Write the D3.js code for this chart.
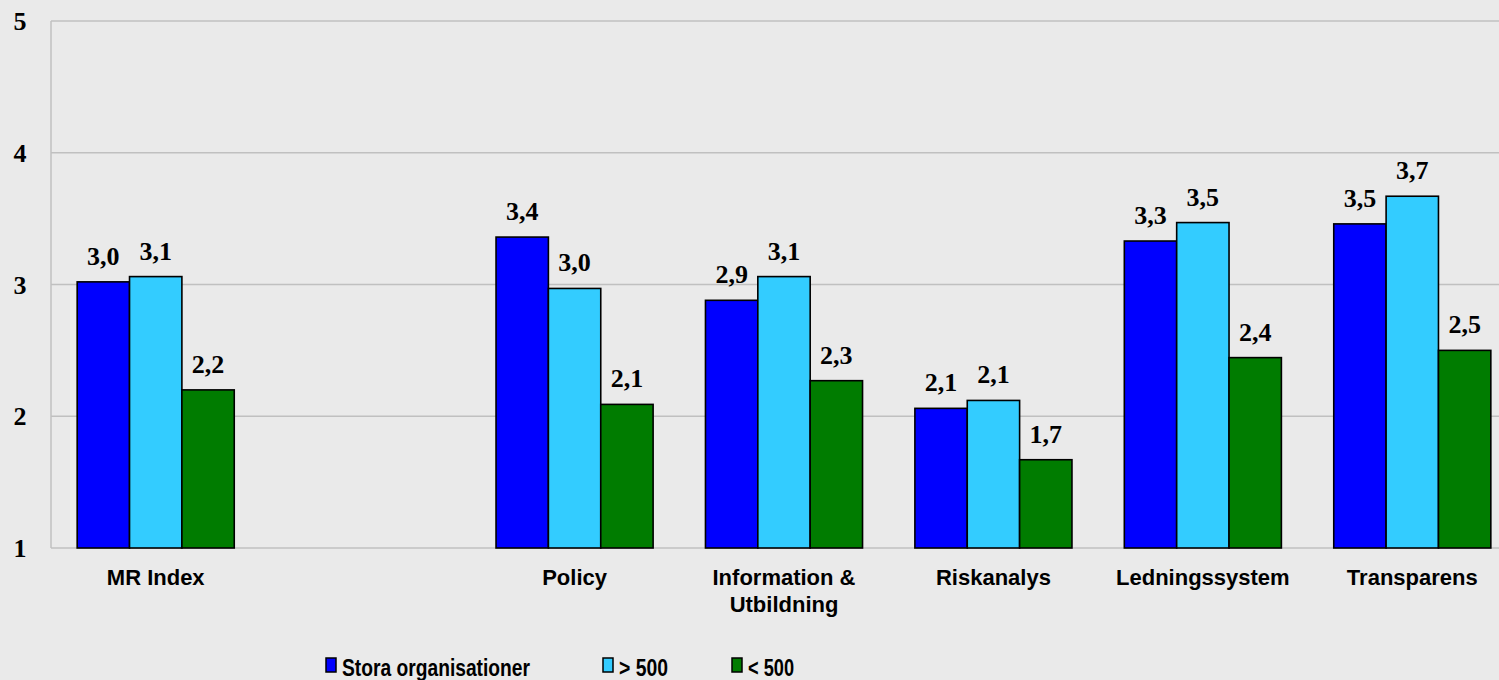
<!DOCTYPE html>
<html><head><meta charset="utf-8">
<script src="https://cdn.jsdelivr.net/npm/d3@7/dist/d3.min.js"></script>
<style>
html,body{margin:0;padding:0;background:#eaeaea;overflow:hidden;}
svg{display:block;}
</style></head>
<body>
<svg id="chart" width="1499" height="680"></svg>
<script>
const categories = [["MR Index"], [""], ["Policy"], ["Information &", "Utbildning"], ["Riskanalys"], ["Ledningssystem"], ["Transparens"]];
const seriesNames = ["Stora organisationer", "> 500", "< 500"];
const seriesColors = ["#0000ff", "#33ccff", "#007c00"];
const stora = [3.02, null, 3.36, 2.88, 2.06, 3.33, 3.46];
const over500 = [3.06, null, 2.97, 3.06, 2.12, 3.47, 3.67];
const under500 = [2.20, null, 2.09, 2.27, 1.67, 2.445, 2.50];
const yTicks = [1, 2, 3, 4, 5];

const series = [stora, over500, under500];
const svg = d3.select("#chart");
svg.append("rect").attr("width", 1499).attr("height", 680).attr("fill", "#eaeaea");

const x0 = d3.scaleBand().domain(d3.range(categories.length)).range([51, 1517]).paddingInner(0.25).paddingOuter(0.125);
const x1 = d3.scaleBand().domain(d3.range(series.length)).range([0, x0.bandwidth()]);
const y = d3.scaleLinear().domain([1, 5]).range([548, 21]);

// gridlines
svg.append("g").selectAll("line").data(yTicks).join("line")
  .attr("x1", 51).attr("x2", 1499)
  .attr("y1", d => y(d)).attr("y2", d => y(d))
  .attr("stroke", "#c0c0c0").attr("stroke-width", 1.5);
svg.append("line").attr("x1", 51).attr("x2", 51).attr("y1", y(5)).attr("y2", y(1))
  .attr("stroke", "#c0c0c0").attr("stroke-width", 1.5);

// y axis labels
const yAxis = d3.axisLeft(y).tickValues(yTicks).tickSize(0).tickPadding(0).tickFormat(d3.format("d"));
const gy = svg.append("g").attr("transform", "translate(26.5,0)").call(yAxis);
gy.select(".domain").remove();
gy.selectAll("text").attr("font-family", "'Liberation Serif', 'Times New Roman', serif")
  .attr("font-weight", "bold").attr("font-size", 26).attr("fill", "#000").attr("dy", "0.33em");

// bars
const fmt = v => v.toFixed(1).replace(".", ",");
series.forEach((vals, si) => {
  const g = svg.append("g");
  const data = vals.map((v, i) => ({i, v})).filter(d => d.v != null);
  g.selectAll("rect").data(data).join("rect")
    .attr("x", d => x0(d.i) + x1(si))
    .attr("width", x1.bandwidth())
    .attr("y", d => y(d.v))
    .attr("height", d => y(1) - y(d.v))
    .attr("fill", seriesColors[si])
    .attr("stroke", "#000").attr("stroke-width", 1.6);
  g.selectAll("text").data(data).join("text")
    .attr("x", d => x0(d.i) + x1(si) + x1.bandwidth() / 2)
    .attr("y", d => y(d.v) - 17)
    .attr("text-anchor", "middle")
    .attr("font-family", "'Liberation Serif', 'Times New Roman', serif")
    .attr("font-weight", "bold").attr("font-size", 26).attr("fill", "#000")
    .text(d => fmt(d.v));
});

// category labels
const xAxis = svg.append("g");
categories.forEach((lines, i) => {
  const t = xAxis.append("text")
    .attr("x", x0(i) + x0.bandwidth() / 2)
    .attr("y", 585)
    .attr("text-anchor", "middle")
    .attr("font-family", "'Liberation Sans', Arial, sans-serif")
    .attr("font-weight", "bold").attr("font-size", 22).attr("fill", "#000");
  lines.forEach((ln, k) => {
    t.append("tspan").attr("x", x0(i) + x0.bandwidth() / 2).attr("dy", k === 0 ? 0 : 27).text(ln);
  });
});

// legend
const legendX = [326, 603, 732];
const legendW = [188, 49, 46];
const lg = svg.append("g");
seriesNames.forEach((name, i) => {
  lg.append("rect").attr("x", legendX[i]).attr("y", 658).attr("width", 10).attr("height", 14)
    .attr("fill", seriesColors[i]).attr("stroke", "#000").attr("stroke-width", 1.5);
  lg.append("text").attr("x", legendX[i] + 16).attr("y", 676)
    .attr("font-family", "'Liberation Sans', Arial, sans-serif")
    .attr("font-weight", "bold").attr("font-size", 24).attr("fill", "#000")
    .attr("textLength", legendW[i]).attr("lengthAdjust", "spacingAndGlyphs")
    .text(name);
});
</script>
</body></html>
